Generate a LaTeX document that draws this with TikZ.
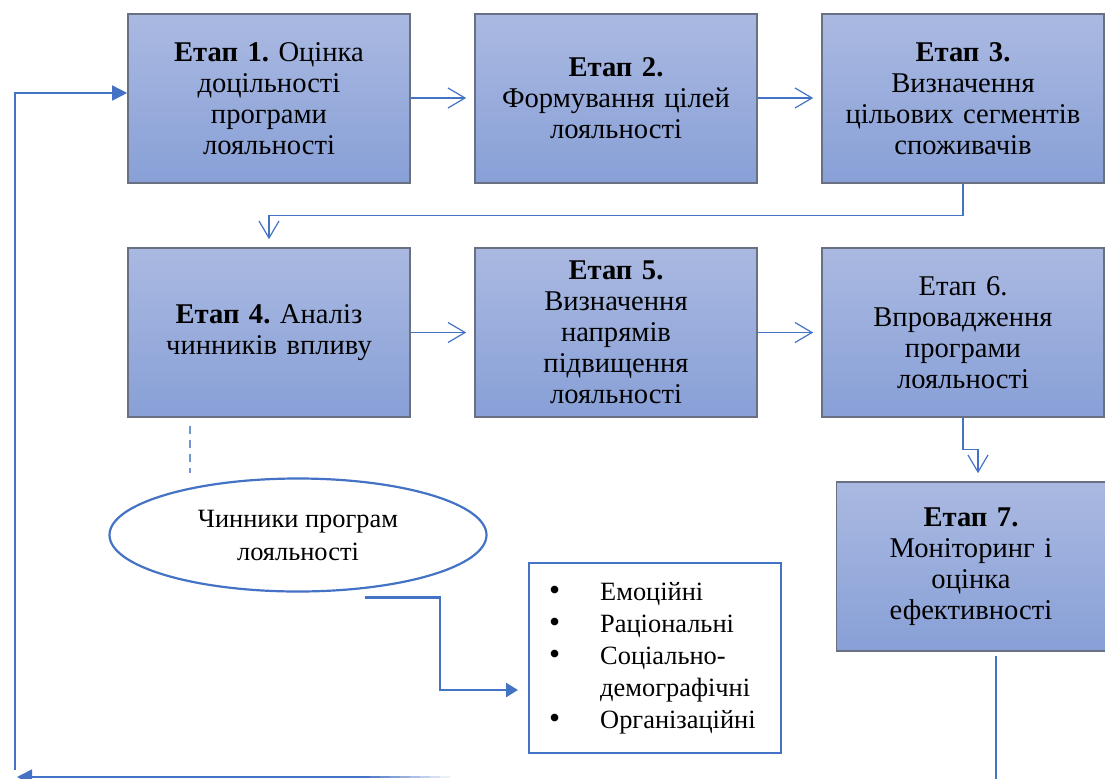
\documentclass[tikz,border=0pt]{standalone}
\usepackage{fontspec}
\setmainfont{Liberation Serif}
\usetikzlibrary{positioning,arrows.meta,shapes.geometric}
\definecolor{boxtop}{RGB}{170,185,225}
\definecolor{boxbot}{RGB}{136,160,215}
\definecolor{boxborder}{RGB}{105,112,130}
\definecolor{linkblue}{RGB}{68,114,196}
\frenchspacing
\newcommand{\listdot}{\makebox[25.5pt][l]{\smash{\scalebox{1.2}{•}}}}

\begin{document}
\begin{tikzpicture}[
  x=0.5pt, y=-0.5pt,
  font=\fontsize{14.3}{15.5}\selectfont,
  stage/.style={
    draw=boxborder,
    line width=0.8pt,
    top color=boxtop,
    bottom color=boxbot,
    minimum width=141pt,
    minimum height=84.5pt,
    text width=136pt,
    align=center,
    inner sep=0pt
  },
  link/.style={draw=linkblue, line width=0.6pt, -{Straight Barb[length=8.5pt,width=10pt]}, shorten >=4pt},
  feedback/.style={draw=linkblue, line width=0.8pt, -{Triangle[length=7.5pt,width=7.5pt]}},
  thicklink/.style={draw=linkblue, line width=1.3pt, -{Triangle[length=6pt,width=7pt]}},
  node distance=31.7pt and 31.7pt
]
\useasboundingbox (0,0) rectangle (1105,778);

\node[stage] (s1) at (269,98.5) {\textbf{Етап 1.} Оцінка\\доцільності\\програми\\лояльності};
\node[stage, right=of s1] (s2) {\textbf{Етап 2.}\\Формування цілей\\лояльності};
\node[stage, right=of s2] (s3) {\textbf{Етап 3.}\\Визначення\\цільових сегментів\\споживачів};

\node[stage, below=of s1] (s4) {\textbf{Етап 4.} Аналіз\\чинників впливу};
\node[stage, right=of s4] (s5) {\textbf{Етап 5.}\\Визначення\\напрямів\\підвищення\\лояльності};
\node[stage, right=of s5] (s6) {Етап 6.\\Впровадження\\програми\\лояльності};
\node[stage, below=of s6, xshift=4pt, minimum width=134.5pt, text width=130pt] (s7) {\textbf{Етап 7.}\\Моніторинг і\\оцінка\\ефективності};

\node[ellipse, draw=linkblue, line width=1.1pt, minimum width=188.5pt, minimum height=56.5pt,
  align=center, font=\fontsize{13.2}{16.5}\selectfont] (factors) at (298,535) {Чинники програм\\лояльності};

\node[draw=linkblue, line width=1.2pt, minimum width=126pt, minimum height=95pt,
  text width=106pt, inner xsep=9.5pt, align=left, anchor=north west, font=\fontsize{13.2}{16}\selectfont] (kinds) at (528,562)
  {\listdot Емоційні\\
   \listdot Раціональні\\
   \listdot Соціально-\\
   \hspace*{25.5pt}демографічні\\
   \listdot Організаційні};

\draw[link] (s1.east |- 0,98) -- (s2.west |- 0,98);
\draw[link] (s2.east |- 0,98) -- (s3.west |- 0,98);
\draw[link] (s3.south) -- ++(0,32) -| (s4.north);
\draw[link] (s4) -- (s5);
\draw[link] (s5) -- (s6);
\draw[link] (s6.south) -- ++(0,32) -| ([xshift=3.5pt]s7.north);

\draw[draw=linkblue!75, line width=0.7pt, dash pattern=on 4pt off 3pt] ([xshift=-39.5pt,yshift=-4pt]s4.south) -- ++(0,47);

\coordinate (bend) at (440,690);
\draw[thicklink] ([xshift=33.5pt,yshift=-2.5pt]factors.south) -| (bend) -- ([xshift=-5pt]bend -| kinds.west);

\draw[draw=linkblue, line width=0.8pt] ([xshift=12.5pt,yshift=-2pt]s7.south) -- ++(0,140);

\coordinate (fbFade) at (360,777);
\coordinate (fbCorner) at (17,777);
\draw[feedback] (fbFade) -- (fbCorner);
\foreach \i [evaluate=\i as \pct using int(100-11*\i)] in {0,...,8}
  \draw[draw=linkblue!\pct!white, line width=0.8pt] ({360+\i*10},777) -- ({370+\i*10},777);

\coordinate (fbDown) at (15,770);
\coordinate (fbUp) at (15,93);
\draw[feedback] (fbDown) -- (fbUp) -- (fbUp -| s1.west);

\end{tikzpicture}
\end{document}
